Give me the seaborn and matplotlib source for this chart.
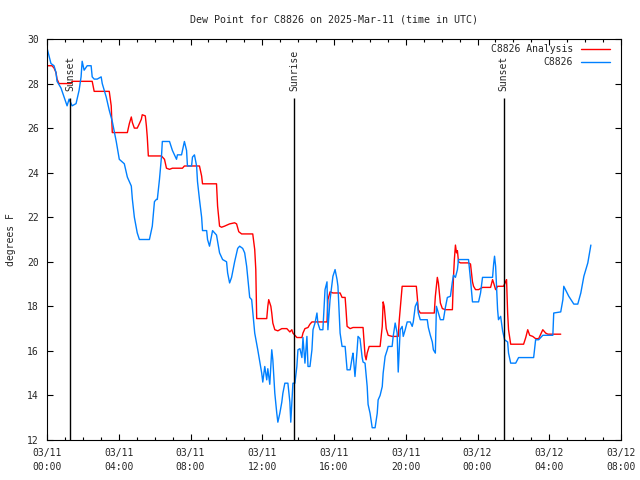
import matplotlib
matplotlib.use('Agg')
import matplotlib.pyplot as plt
from matplotlib.ticker import MultipleLocator
import seaborn as sns

## data: hours since 03/11 00:00 UTC, dew point in F ##

station_hours = [0.00, 0.22, 0.39, 0.50, 0.56, 0.78, 0.95, 1.12, 1.23, 1.40, 1.62, 1.79, 1.90, 1.96, 2.07,
                 2.24, 2.46, 2.52, 2.63, 2.80, 3.02, 3.08, 3.30, 3.47, 3.64, 3.86, 4.03, 4.31, 4.48, 4.70,
                 4.76, 4.87, 5.03, 5.15, 5.71, 5.87, 5.99, 6.10, 6.15, 6.27, 6.38, 6.43, 6.83, 6.99, 7.22,
                 7.27, 7.50, 7.66, 7.78, 7.83, 8.06, 8.11, 8.22, 8.34, 8.39, 8.50, 8.62, 8.67, 8.90, 8.95,
                 9.06, 9.23, 9.45, 9.62, 9.79, 10.01, 10.07, 10.18, 10.29, 10.46, 10.63, 10.74, 10.91, 11.02,
                 11.13, 11.19, 11.30, 11.41, 11.58, 11.75, 11.97, 12.03, 12.14, 12.25, 12.31, 12.42, 12.53,
                 12.59, 12.70, 12.81, 12.87, 12.98, 13.09, 13.15, 13.26, 13.43, 13.54, 13.59, 13.65, 13.71,
                 13.82, 13.93, 13.99, 14.10, 14.21, 14.27, 14.38, 14.49, 14.55, 14.66, 14.77, 14.83, 14.94,
                 15.05, 15.10, 15.22, 15.38, 15.50, 15.61, 15.66, 15.78, 15.89, 15.94, 16.06, 16.17, 16.22,
                 16.34, 16.45, 16.62, 16.73, 16.90, 17.01, 17.06, 17.17, 17.29, 17.34, 17.45, 17.57, 17.62,
                 17.73, 17.85, 17.90, 18.01, 18.13, 18.29, 18.41, 18.46, 18.57, 18.69, 18.74, 18.85, 18.97,
                 19.02, 19.24, 19.30, 19.41, 19.52, 19.58, 19.69, 19.80, 19.86, 19.97, 20.08, 20.25, 20.36,
                 20.42, 20.53, 20.64, 20.70, 20.81, 21.20, 21.26, 21.37, 21.48, 21.54, 21.65, 21.71, 21.82,
                 21.93, 22.10, 22.21, 22.32, 22.49, 22.60, 22.66, 22.77, 22.88, 22.94, 23.50, 23.61, 23.72,
                 24.06, 24.17, 24.28, 24.84, 24.90, 24.95, 25.01, 25.12, 25.17, 25.29, 25.40, 25.51, 25.68,
                 25.73, 25.85, 26.13, 26.29, 27.13, 27.24, 27.41, 27.64, 28.20, 28.25, 28.64, 28.76, 28.81,
                 29.09, 29.37, 29.59, 29.76, 29.93, 30.15, 30.32]
station_dewpt = [29.6, 28.9, 28.8, 28.5, 28.1, 27.8, 27.4, 27.0, 27.3, 27.0, 27.1, 27.7, 28.3, 29.0, 28.6,
                 28.8, 28.8, 28.3, 28.2, 28.2, 28.3, 28.0, 27.4, 26.8, 26.3, 25.4, 24.6, 24.4, 23.8, 23.4,
                 22.8, 22.0, 21.3, 21.0, 21.0, 21.6, 22.7, 22.8, 22.8, 23.7, 24.7, 25.4, 25.4, 25.0, 24.6,
                 24.8, 24.8, 25.4, 25.0, 24.3, 24.3, 24.7, 24.8, 24.3, 23.6, 22.8, 22.0, 21.4, 21.4, 21.0,
                 20.7, 21.4, 21.2, 20.4, 20.1, 20.0, 19.5, 19.05, 19.3, 20.0, 20.6, 20.7, 20.6, 20.4,
                 19.8, 19.3, 18.4, 18.3, 16.8, 16.05, 15.0, 14.6, 15.3, 14.7, 15.2, 14.5, 16.05,
                 15.6, 14.1, 13.2, 12.8, 13.2, 13.7, 14.1, 14.55, 14.55, 13.7, 12.8, 13.7, 14.55,
                 14.55, 15.3, 16.05, 16.1, 15.7, 16.6, 15.45, 16.65, 15.3, 15.3, 16.05, 16.95, 17.25,
                 17.7, 17.25, 16.95, 16.95, 18.75, 19.1, 16.95, 18.3, 19.05, 19.35, 19.65, 19.2, 18.9,
                 16.8, 16.2, 16.2, 15.15, 15.15, 15.7, 15.9, 14.85, 16.05, 16.65, 16.55, 15.7, 15.5,
                 15.45, 14.4, 13.6, 13.2, 12.55, 12.55, 13.2, 13.8, 14.0, 14.4, 15.0, 15.75, 16.05,
                 16.2, 16.2, 16.65, 17.25, 16.8, 15.05, 16.95, 17.1, 16.65, 16.95, 17.3, 17.3, 17.1,
                 17.3, 18.0, 18.2, 17.7, 17.4, 17.4, 17.05, 16.7, 16.4, 16.05, 15.9, 18.0, 17.7,
                 17.4, 17.4, 17.95, 18.4, 18.45, 19.1, 19.4, 19.3, 19.65, 20.1, 20.1, 19.2, 18.2,
                 18.2, 18.6, 19.3, 19.3, 19.9, 20.25, 19.8, 17.85, 17.4, 17.55, 16.9, 16.5, 16.4,
                 15.9, 15.45, 15.45, 15.7, 15.7, 16.5, 16.5, 16.7, 16.7, 17.7, 17.75, 18.3, 18.9,
                 18.45, 18.1, 18.1, 18.6, 19.35, 19.95, 20.75]

analysis_hours = [0.00, 0.28, 0.39, 0.50, 0.56, 0.67, 1.34, 1.40, 2.52, 2.63, 3.47, 3.58, 3.64, 4.48, 4.59,
                  4.70, 4.76, 4.87, 5.03, 5.15, 5.26, 5.31, 5.48, 5.54, 5.59, 5.65, 6.38, 6.55, 6.66, 6.83,
                  6.99, 7.55, 7.66, 8.50, 8.62, 8.67, 9.45, 9.51, 9.62, 9.73, 9.90, 10.18, 10.46, 10.57,
                  10.69, 10.85, 11.47, 11.58, 11.64, 11.69, 12.25, 12.31, 12.36, 12.48, 12.53, 12.59, 12.70,
                  12.87, 13.09, 13.37, 13.54, 13.65, 13.71, 13.93, 14.21, 14.27, 14.38, 14.55, 14.66, 14.77,
                  15.61, 15.66, 15.78, 15.94, 16.34, 16.45, 16.62, 16.67, 16.73, 16.90, 17.06, 17.62, 17.68,
                  17.73, 17.79, 17.85, 17.96, 18.57, 18.69, 18.74, 18.80, 18.91, 19.02, 19.24, 19.58, 19.64,
                  19.80, 20.59, 20.64, 20.70, 20.81, 21.59, 21.65, 21.76, 21.82, 21.93, 22.04, 22.21, 22.60,
                  22.66, 22.71, 22.77, 22.83, 22.88, 22.94, 23.05, 23.50, 23.61, 23.72, 23.78, 23.89, 24.06,
                  24.28, 24.73, 24.84, 24.90, 25.01, 25.12, 25.45, 25.57, 25.62, 25.68, 25.73, 25.85, 26.57,
                  26.69, 26.80, 26.91, 27.08, 27.24, 27.41, 27.64, 27.80, 27.92, 28.64]
analysis_dewpt = [28.8, 28.8, 28.7, 28.5, 28.2, 28.0, 28.0, 28.1, 28.1, 27.65, 27.65, 27.0, 25.8, 25.8, 26.2,
                  26.5, 26.25, 26.0, 26.0, 26.2, 26.4, 26.6, 26.55, 26.1, 25.6, 24.75, 24.75, 24.6, 24.2, 24.15,
                  24.2, 24.2, 24.3, 24.3, 23.85, 23.5, 23.5, 22.5, 21.6, 21.55, 21.6, 21.7, 21.75, 21.7,
                  21.35, 21.25, 21.25, 20.55, 19.65, 17.45, 17.45, 18.0, 18.3, 18.0, 17.7, 17.25, 16.95,
                  16.9, 17.0, 17.0, 16.85, 16.95, 16.8, 16.6, 16.6, 16.8, 17.0, 17.05, 17.2, 17.3,
                  17.3, 18.3, 18.65, 18.6, 18.6, 18.4, 18.4, 17.85, 17.1, 17.0, 17.05, 17.05, 16.35,
                  15.8, 15.6, 15.9, 16.2, 16.2, 17.1, 18.2, 18.0, 17.0, 16.7, 16.65, 16.65, 17.4,
                  18.9, 18.9, 18.45, 17.85, 17.7, 17.7, 18.45, 19.3, 19.05, 18.15, 17.9, 17.85, 17.85,
                  19.3, 20.1, 20.75, 20.4, 20.5, 20.0, 19.95, 19.95, 19.9, 19.1, 18.9, 18.75, 18.75,
                  18.85, 18.85, 19.2, 19.05, 18.75, 18.9, 18.9, 19.1, 19.2, 17.7, 16.95, 16.3, 16.3,
                  16.6, 16.95, 16.7, 16.65, 16.55, 16.55, 16.95, 16.8, 16.75, 16.75]

event_hours = [1.29, 13.78, 25.47]
event_labels = ['Sunset', 'Sunrise', 'Sunset']

tick_hours = [0, 4, 8, 12, 16, 20, 24, 28, 32]
tick_labels = ['03/11\n00:00', '03/11\n04:00', '03/11\n08:00', '03/11\n12:00', '03/11\n16:00',
               '03/11\n20:00', '03/12\n00:00', '03/12\n04:00', '03/12\n08:00']

## plot ##

sns.set_style('ticks')
plt.rcParams['font.family'] = ['DejaVu Sans Mono']

fig = plt.figure(figsize=(6.4, 4.8), dpi=100)
ax = fig.add_axes([47/640, 40/480, 574/640, 401/480])

sns.lineplot(x=analysis_hours, y=analysis_dewpt, color='#ff0000', lw=1, label='C8826 Analysis',
             estimator=None, sort=False, ax=ax)
sns.lineplot(x=station_hours, y=station_dewpt, color='#0080ff', lw=1, label='C8826',
             estimator=None, sort=False, ax=ax)

ax.vlines(event_hours, 12, 27.35, color='black', lw=1)
for h, lab in zip(event_hours, event_labels):
    ax.text(h, 27.65, lab, rotation=90, ha='center', va='bottom', fontsize=7)

ax.set_xlim(0, 32)
ax.set_ylim(12, 30)
ax.set_xticks(tick_hours)
ax.set_xticklabels(tick_labels, linespacing=1.45)
ax.xaxis.set_minor_locator(MultipleLocator(1))
ax.set_yticks(range(12, 31, 2))
ax.tick_params(which='both', direction='in', top=True, right=True, color='black', labelsize=7, width=0.8)
ax.tick_params(which='major', length=4, pad=6)
ax.tick_params(which='minor', length=2)
for s in ax.spines.values():
    s.set_color('black')
    s.set_linewidth(0.8)

ax.set_ylabel('degrees F', fontsize=7)
ax.yaxis.set_label_coords(-31/574, 0.5)
ax.set_title('Dew Point for C8826 on 2025-Mar-11 (time in UTC)', fontsize=7.2, pad=12)

leg = ax.legend(loc='upper right', bbox_to_anchor=(1 - 11/574, 1 - 5/401), frameon=False, markerfirst=False,
                fontsize=7, handlelength=3.0, handletextpad=0.8, borderpad=0, borderaxespad=0, labelspacing=0.3)

fig.savefig('out.png', dpi=100)
